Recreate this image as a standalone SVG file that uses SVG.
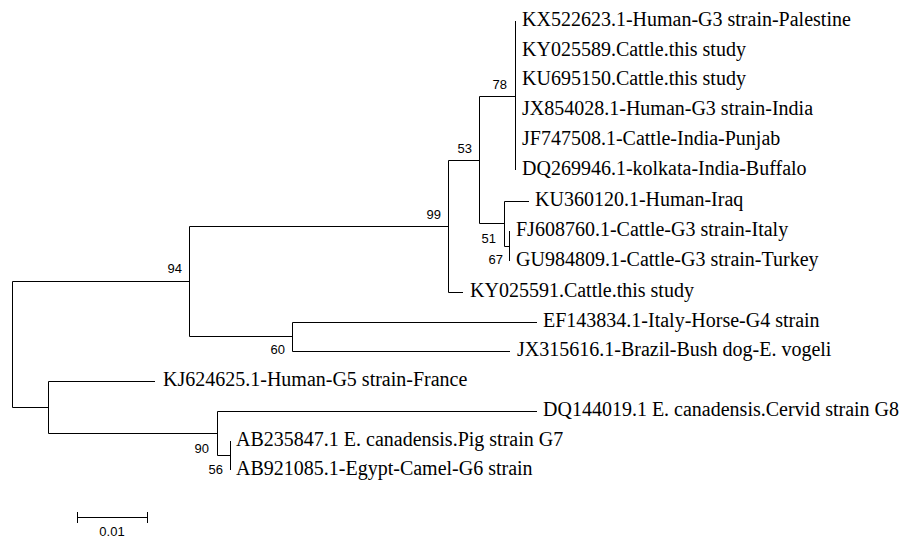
<svg xmlns="http://www.w3.org/2000/svg" width="900" height="538" viewBox="0 0 900 538">
<style>
.br{fill:none;stroke:#000;stroke-width:1}
.tx{font-family:"Liberation Serif","Times New Roman",serif;font-size:20px;fill:#000}
.bs{font-family:"Liberation Sans",Arial,sans-serif;font-size:13px;fill:#000;text-anchor:end}
.sc{font-family:"Liberation Sans",Arial,sans-serif;font-size:13px;fill:#000;text-anchor:middle}
</style>
<rect width="900" height="538" fill="#fff"/>
<g id="connectors">
<path class="br" d="M12.5,281.5V407.5M12.5,281.5H189.5M12.5,407.5H48.5"/>
<path class="br" d="M189.5,226.5V336.5M189.5,226.5H448.5M189.5,336.5H292.5"/>
<path class="br" d="M448.5,160.5V292.5M448.5,160.5H479.5M448.5,292.5H463"/>
<path class="br" d="M479.5,96.5V223.5M479.5,96.5H515.5M479.5,223.5H504.5"/>
<path class="br" d="M515.5,21V170"/>
<path class="br" d="M504.5,201.5V246.5M504.5,201.5H529M504.5,246.5H509.5"/>
<path class="br" d="M509.5,231V261"/>
<path class="br" d="M292.5,322.5V351.5M292.5,322.5H537M292.5,351.5H510"/>
<path class="br" d="M48.5,381.5V433.5M48.5,381.5H155M48.5,433.5H217.5"/>
<path class="br" d="M217.5,411.5V455.5M217.5,411.5H537M217.5,455.5H230.5"/>
<path class="br" d="M230.5,441V470"/>
</g>
<g id="leaves">
<g id="n1"><text class="tx" x="522" y="26">KX522623.1-Human-G3 strain-Palestine</text></g>
<g id="n2"><text class="tx" x="522" y="56">KY025589.Cattle.this study</text></g>
<g id="n3"><text class="tx" x="522" y="85">KU695150.Cattle.this study</text></g>
<g id="n4"><text class="tx" x="522" y="115">JX854028.1-Human-G3 strain-India</text></g>
<g id="n5"><text class="tx" x="522" y="145">JF747508.1-Cattle-India-Punjab</text></g>
<g id="n6"><text class="tx" x="522" y="175">DQ269946.1-kolkata-India-Buffalo</text></g>
<g id="n7"><text class="tx" x="535" y="206">KU360120.1-Human-Iraq</text></g>
<g id="n8"><text class="tx" x="516" y="236">FJ608760.1-Cattle-G3 strain-Italy</text></g>
<g id="n9"><text class="tx" x="516" y="266">GU984809.1-Cattle-G3 strain-Turkey</text></g>
<g id="n10"><text class="tx" x="470" y="297">KY025591.Cattle.this study</text></g>
<g id="n11"><text class="tx" x="543" y="327">EF143834.1-Italy-Horse-G4 strain</text></g>
<g id="n12"><text class="tx" x="517" y="356">JX315616.1-Brazil-Bush dog-E. vogeli</text></g>
<g id="n13"><text class="tx" x="163" y="386">KJ624625.1-Human-G5 strain-France</text></g>
<g id="n14"><text class="tx" x="543" y="416">DQ144019.1 E. canadensis.Cervid strain G8</text></g>
<g id="n15"><text class="tx" x="236" y="446">AB235847.1 E. canadensis.Pig strain G7</text></g>
<g id="n16"><text class="tx" x="236" y="475">AB921085.1-Egypt-Camel-G6 strain</text></g>
</g>
<g id="bootstrap">
<text class="bs" x="182" y="273">94</text>
<text class="bs" x="441" y="219">99</text>
<text class="bs" x="472" y="153">53</text>
<text class="bs" x="507" y="89">78</text>
<text class="bs" x="496" y="243">51</text>
<text class="bs" x="503" y="264">67</text>
<text class="bs" x="285" y="354">60</text>
<text class="bs" x="209" y="453">90</text>
<text class="bs" x="223" y="474">56</text>
</g>
<g id="scale">
<path class="br" d="M77.5,517.5H147.5M77.5,512V523M147.5,512V523"/>
<text class="sc" x="112" y="536">0.01</text>
</g>
</svg>
